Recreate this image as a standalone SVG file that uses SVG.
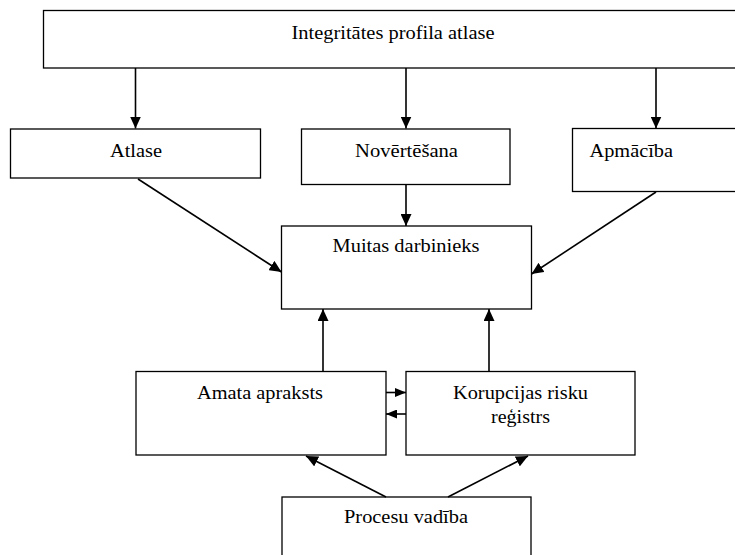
<svg xmlns="http://www.w3.org/2000/svg" width="735" height="555" viewBox="0 0 735 555">
<defs>
<marker id="ah" markerUnits="userSpaceOnUse" markerWidth="12" markerHeight="11" refX="12" refY="5.5" orient="auto">
<path d="M0,0 L12,5.5 L0,11 z" fill="#000"/>
</marker>
<marker id="ahs" markerUnits="userSpaceOnUse" markerWidth="11" markerHeight="9" refX="11" refY="4.5" orient="auto">
<path d="M0,0 L11,4.5 L0,9 z" fill="#000"/>
</marker>
</defs>
<style>
.box{fill:#fff;stroke:#000;stroke-width:1.3}
.lbl{font-family:"Liberation Serif","Times New Roman",serif;font-size:18.5px;fill:#000}
.big{font-size:19.5px}
.c{stroke:#000;stroke-width:1.6;fill:none;marker-end:url(#ah)}
.cs{stroke:#000;stroke-width:1.6;fill:none;marker-end:url(#ahs)}
</style>
<rect width="735" height="555" fill="#fff"/>
<g id="top">
<rect class="box" x="43.5" y="10.5" width="700" height="57.5"/>
<text class="lbl big" x="393" y="39" text-anchor="middle" textLength="203" lengthAdjust="spacingAndGlyphs">Integritātes profila atlase</text>
</g>
<g id="atlase">
<rect class="box" x="10.5" y="129" width="250" height="49"/>
<text class="lbl big" x="136" y="157" text-anchor="middle" textLength="52" lengthAdjust="spacingAndGlyphs">Atlase</text>
</g>
<g id="novertesana">
<rect class="box" x="301.5" y="129" width="208.5" height="55.5"/>
<text class="lbl big" x="406.5" y="157" text-anchor="middle" textLength="103" lengthAdjust="spacingAndGlyphs">Novērtēšana</text>
</g>
<g id="apmaciba">
<rect class="box" x="572.5" y="128.5" width="170" height="63"/>
<text class="lbl big" x="589.5" y="157" textLength="83.5" lengthAdjust="spacingAndGlyphs">Apmācība</text>
</g>
<g id="muitas">
<rect class="box" x="281.5" y="226" width="250" height="83"/>
<text class="lbl big" x="406" y="252" text-anchor="middle" textLength="147" lengthAdjust="spacingAndGlyphs">Muitas darbinieks</text>
</g>
<g id="amata">
<rect class="box" x="136" y="371.5" width="250" height="83.5"/>
<text class="lbl" x="260" y="399" text-anchor="middle" textLength="126" lengthAdjust="spacingAndGlyphs">Amata apraksts</text>
</g>
<g id="korupcijas">
<rect class="box" x="406" y="371.5" width="229" height="83.5"/>
<text class="lbl" x="520.5" y="399" text-anchor="middle" textLength="135" lengthAdjust="spacingAndGlyphs">Korupcijas risku</text>
<text class="lbl" x="520.5" y="423" text-anchor="middle" textLength="59" lengthAdjust="spacingAndGlyphs">reģistrs</text>
</g>
<g id="procesu">
<rect class="box" x="282" y="497" width="249" height="70"/>
<text class="lbl" x="406" y="523" text-anchor="middle" textLength="124" lengthAdjust="spacingAndGlyphs">Procesu vadība</text>
</g>
<g id="connectors">
<line class="c" x1="135.5" y1="68" x2="135.5" y2="128.5"/>
<line class="c" x1="406" y1="68" x2="406" y2="128.5"/>
<line class="c" x1="656" y1="68" x2="656" y2="128.5"/>
<line class="c" x1="138" y1="179" x2="281.5" y2="272"/>
<line class="c" x1="406" y1="185" x2="406" y2="226"/>
<line class="c" x1="656" y1="192" x2="531.5" y2="274"/>
<line class="c" x1="323" y1="371" x2="323" y2="309"/>
<line class="c" x1="489" y1="371" x2="489" y2="309"/>
<line class="cs" x1="386" y1="392.5" x2="406" y2="392.5"/>
<line class="cs" x1="406" y1="414" x2="386" y2="414"/>
<line class="c" x1="386" y1="497" x2="306" y2="456"/>
<line class="c" x1="448" y1="497" x2="528" y2="456"/>
</g>
</svg>
